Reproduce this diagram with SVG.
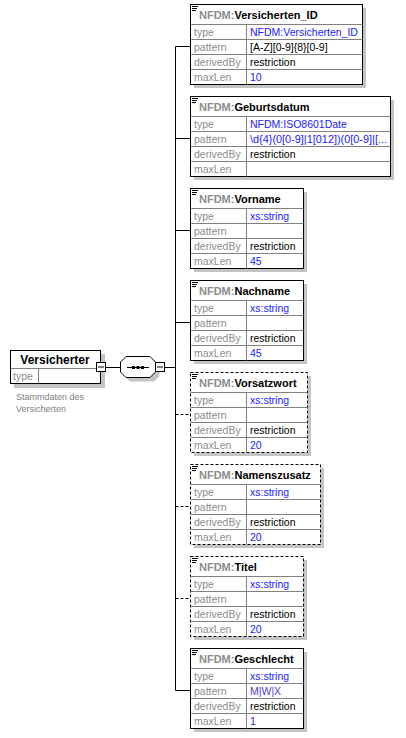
<svg xmlns="http://www.w3.org/2000/svg" width="406" height="738" viewBox="0 0 406 738">
<style>
  text { font-family: "Liberation Sans", Arial, sans-serif; }
  .bg { fill: #ffffff; }
  .box { fill: #ffffff; stroke: #000000; stroke-width: 1; }
  .opt { stroke-dasharray: 3 2; }
  .shadow { fill: #c4c4c4; }
  .sep { stroke: #808080; stroke-width: 1; }
  .conn { stroke: #000000; stroke-width: 1; fill: none; }
  .dash { stroke-dasharray: 3 2; }
  .ttl { font-size: 11px; font-weight: bold; fill: #000000; }
  .ns { fill: #8c8c8c; }
  .lbl { font-size: 10.5px; fill: #8c8c8c; }
  .val { font-size: 10.5px; fill: #000000; }
  .blue { fill: #1a1aff; }
  .ico { stroke: #000000; stroke-width: 1; }
  .desc { font-size: 9px; fill: #808080; }
</style>
<defs>
  <g id="icon">
    <line class="ico" x1="192" y1="2.5" x2="198" y2="2.5"/>
    <line class="ico" x1="192" y1="4.5" x2="197" y2="4.5"/>
    <line class="ico" x1="192" y1="6.5" x2="196" y2="6.5"/>
  </g>
</defs>
<rect class="bg" x="0" y="0" width="406" height="738"/>

<g id="connectors">
  <line class="conn" x1="175.5" y1="46.5" x2="175.5" y2="690.5"/>
  <line class="conn" x1="106" y1="367.5" x2="121" y2="367.5"/>
  <line class="conn" x1="165" y1="367.5" x2="175.5" y2="367.5"/>
  <line class="conn" x1="175.5" y1="46.5" x2="190" y2="46.5"/>
  <line class="conn" x1="175.5" y1="138.5" x2="190" y2="138.5"/>
  <line class="conn" x1="175.5" y1="230.5" x2="190" y2="230.5"/>
  <line class="conn" x1="175.5" y1="322.5" x2="190" y2="322.5"/>
  <line class="conn dash" x1="175.5" y1="414.5" x2="190" y2="414.5"/>
  <line class="conn dash" x1="175.5" y1="506.5" x2="190" y2="506.5"/>
  <line class="conn dash" x1="175.5" y1="598.5" x2="190" y2="598.5"/>
  <line class="conn" x1="175.5" y1="690.5" x2="190" y2="690.5"/>
</g>

<g id="versicherter">
  <rect class="shadow" x="14" y="354" width="91" height="34"/>
  <rect class="box" x="10.5" y="350.5" width="90" height="33"/>
  <line class="sep" x1="10.5" y1="368.5" x2="100.5" y2="368.5"/>
  <line class="sep" x1="38.5" y1="368.5" x2="38.5" y2="383.5"/>
  <text class="ttl" x="55" y="364" text-anchor="middle" style="font-size:12px">Versicherter</text>
  <text class="lbl" x="13" y="380">type</text>
  <rect class="box" x="96.5" y="362.5" width="9" height="9"/>
  <line class="conn" x1="98" y1="367" x2="104" y2="367"/>
  <text class="desc" x="16" y="400">Stammdaten des</text>
  <text class="desc" x="16" y="412">Versicherten</text>
</g>

<g id="sequence">
  <polygon class="shadow" points="130,360.5 154,360.5 159.5,366 159.5,376 154,381.5 130,381.5 124.5,376 124.5,366"/>
  <polygon class="box" points="126,356.5 150,356.5 155.5,362 155.5,372 150,377.5 126,377.5 120.5,372 120.5,362"/>
  <line class="conn" x1="127" y1="367.5" x2="149" y2="367.5"/>
  <rect x="132" y="366" width="3" height="3" fill="#000"/>
  <rect x="136.5" y="366" width="3" height="3" fill="#000"/>
  <rect x="141" y="366" width="3" height="3" fill="#000"/>
  <rect class="box" x="155.5" y="362.5" width="9" height="9"/>
  <line class="conn" x1="157" y1="367" x2="163" y2="367"/>
</g>

<g id="versicherten_id">
  <rect class="shadow" x="194" y="8" width="172" height="80"/>
  <rect class="box" x="190.5" y="4.5" width="172" height="80"/>
  <line class="sep" x1="190.5" y1="24.5" x2="362.5" y2="24.5"/>
  <line class="sep" x1="190.5" y1="39.5" x2="362.5" y2="39.5"/>
  <line class="sep" x1="190.5" y1="54.5" x2="362.5" y2="54.5"/>
  <line class="sep" x1="190.5" y1="69.5" x2="362.5" y2="69.5"/>
  <line class="sep" x1="246.5" y1="24.5" x2="246.5" y2="84.5"/>
  <use href="#icon" transform="translate(0,4)"/>
  <text class="ttl" x="199" y="19"><tspan class="ns">NFDM:</tspan>Versicherten_ID</text>
  <text class="lbl" x="194" y="36">type</text>
  <text class="lbl" x="194" y="51">pattern</text>
  <text class="lbl" x="194" y="66">derivedBy</text>
  <text class="lbl" x="194" y="81">maxLen</text>
  <text class="val blue" x="250" y="36">NFDM:Versicherten_ID</text>
  <text class="val" x="250" y="51">[A-Z][0-9]{8}[0-9]</text>
  <text class="val" x="250" y="66">restriction</text>
  <text class="val blue" x="250" y="81">10</text>
</g>

<g id="geburtsdatum">
  <rect class="shadow" x="194" y="100" width="200" height="80"/>
  <rect class="box" x="190.5" y="96.5" width="200" height="80"/>
  <line class="sep" x1="190.5" y1="116.5" x2="390.5" y2="116.5"/>
  <line class="sep" x1="190.5" y1="131.5" x2="390.5" y2="131.5"/>
  <line class="sep" x1="190.5" y1="146.5" x2="390.5" y2="146.5"/>
  <line class="sep" x1="190.5" y1="161.5" x2="390.5" y2="161.5"/>
  <line class="sep" x1="246.5" y1="116.5" x2="246.5" y2="176.5"/>
  <use href="#icon" transform="translate(0,96)"/>
  <text class="ttl" x="199" y="111"><tspan class="ns">NFDM:</tspan>Geburtsdatum</text>
  <text class="lbl" x="194" y="128">type</text>
  <text class="lbl" x="194" y="143">pattern</text>
  <text class="lbl" x="194" y="158">derivedBy</text>
  <text class="lbl" x="194" y="173">maxLen</text>
  <text class="val blue" x="250" y="128">NFDM:ISO8601Date</text>
  <text class="val blue" x="250" y="143" textLength="137" lengthAdjust="spacingAndGlyphs">\d{4}(0[0-9]|1[012])(0[0-9]|[...</text>
  <text class="val" x="250" y="158">restriction</text>
</g>

<g id="vorname">
  <rect class="shadow" x="194" y="192" width="113" height="80"/>
  <rect class="box" x="190.5" y="188.5" width="113" height="80"/>
  <line class="sep" x1="190.5" y1="208.5" x2="303.5" y2="208.5"/>
  <line class="sep" x1="190.5" y1="223.5" x2="303.5" y2="223.5"/>
  <line class="sep" x1="190.5" y1="238.5" x2="303.5" y2="238.5"/>
  <line class="sep" x1="190.5" y1="253.5" x2="303.5" y2="253.5"/>
  <line class="sep" x1="246.5" y1="208.5" x2="246.5" y2="268.5"/>
  <use href="#icon" transform="translate(0,188)"/>
  <text class="ttl" x="199" y="203"><tspan class="ns">NFDM:</tspan>Vorname</text>
  <text class="lbl" x="194" y="220">type</text>
  <text class="lbl" x="194" y="235">pattern</text>
  <text class="lbl" x="194" y="250">derivedBy</text>
  <text class="lbl" x="194" y="265">maxLen</text>
  <text class="val blue" x="250" y="220">xs:string</text>
  <text class="val" x="250" y="250">restriction</text>
  <text class="val blue" x="250" y="265">45</text>
</g>

<g id="nachname">
  <rect class="shadow" x="194" y="284" width="113" height="80"/>
  <rect class="box" x="190.5" y="280.5" width="113" height="80"/>
  <line class="sep" x1="190.5" y1="300.5" x2="303.5" y2="300.5"/>
  <line class="sep" x1="190.5" y1="315.5" x2="303.5" y2="315.5"/>
  <line class="sep" x1="190.5" y1="330.5" x2="303.5" y2="330.5"/>
  <line class="sep" x1="190.5" y1="345.5" x2="303.5" y2="345.5"/>
  <line class="sep" x1="246.5" y1="300.5" x2="246.5" y2="360.5"/>
  <use href="#icon" transform="translate(0,280)"/>
  <text class="ttl" x="199" y="295"><tspan class="ns">NFDM:</tspan>Nachname</text>
  <text class="lbl" x="194" y="312">type</text>
  <text class="lbl" x="194" y="327">pattern</text>
  <text class="lbl" x="194" y="342">derivedBy</text>
  <text class="lbl" x="194" y="357">maxLen</text>
  <text class="val blue" x="250" y="312">xs:string</text>
  <text class="val" x="250" y="342">restriction</text>
  <text class="val blue" x="250" y="357">45</text>
</g>

<g id="vorsatzwort">
  <rect class="shadow" x="194" y="376" width="117" height="80"/>
  <rect class="box opt" x="190.5" y="372.5" width="117" height="80"/>
  <line class="sep" x1="190.5" y1="392.5" x2="307.5" y2="392.5"/>
  <line class="sep" x1="190.5" y1="407.5" x2="307.5" y2="407.5"/>
  <line class="sep" x1="190.5" y1="422.5" x2="307.5" y2="422.5"/>
  <line class="sep" x1="190.5" y1="437.5" x2="307.5" y2="437.5"/>
  <line class="sep" x1="246.5" y1="392.5" x2="246.5" y2="452.5"/>
  <use href="#icon" transform="translate(0,372)"/>
  <text class="ttl" x="199" y="387"><tspan class="ns">NFDM:</tspan>Vorsatzwort</text>
  <text class="lbl" x="194" y="404">type</text>
  <text class="lbl" x="194" y="419">pattern</text>
  <text class="lbl" x="194" y="434">derivedBy</text>
  <text class="lbl" x="194" y="449">maxLen</text>
  <text class="val blue" x="250" y="404">xs:string</text>
  <text class="val" x="250" y="434">restriction</text>
  <text class="val blue" x="250" y="449">20</text>
</g>

<g id="namenszusatz">
  <rect class="shadow" x="194" y="468" width="130" height="80"/>
  <rect class="box opt" x="190.5" y="464.5" width="130" height="80"/>
  <line class="sep" x1="190.5" y1="484.5" x2="320.5" y2="484.5"/>
  <line class="sep" x1="190.5" y1="499.5" x2="320.5" y2="499.5"/>
  <line class="sep" x1="190.5" y1="514.5" x2="320.5" y2="514.5"/>
  <line class="sep" x1="190.5" y1="529.5" x2="320.5" y2="529.5"/>
  <line class="sep" x1="246.5" y1="484.5" x2="246.5" y2="544.5"/>
  <use href="#icon" transform="translate(0,464)"/>
  <text class="ttl" x="199" y="479"><tspan class="ns">NFDM:</tspan>Namenszusatz</text>
  <text class="lbl" x="194" y="496">type</text>
  <text class="lbl" x="194" y="511">pattern</text>
  <text class="lbl" x="194" y="526">derivedBy</text>
  <text class="lbl" x="194" y="541">maxLen</text>
  <text class="val blue" x="250" y="496">xs:string</text>
  <text class="val" x="250" y="526">restriction</text>
  <text class="val blue" x="250" y="541">20</text>
</g>

<g id="titel">
  <rect class="shadow" x="194" y="560" width="113" height="80"/>
  <rect class="box opt" x="190.5" y="556.5" width="113" height="80"/>
  <line class="sep" x1="190.5" y1="576.5" x2="303.5" y2="576.5"/>
  <line class="sep" x1="190.5" y1="591.5" x2="303.5" y2="591.5"/>
  <line class="sep" x1="190.5" y1="606.5" x2="303.5" y2="606.5"/>
  <line class="sep" x1="190.5" y1="621.5" x2="303.5" y2="621.5"/>
  <line class="sep" x1="246.5" y1="576.5" x2="246.5" y2="636.5"/>
  <use href="#icon" transform="translate(0,556)"/>
  <text class="ttl" x="199" y="571"><tspan class="ns">NFDM:</tspan>Titel</text>
  <text class="lbl" x="194" y="588">type</text>
  <text class="lbl" x="194" y="603">pattern</text>
  <text class="lbl" x="194" y="618">derivedBy</text>
  <text class="lbl" x="194" y="633">maxLen</text>
  <text class="val blue" x="250" y="588">xs:string</text>
  <text class="val" x="250" y="618">restriction</text>
  <text class="val blue" x="250" y="633">20</text>
</g>

<g id="geschlecht">
  <rect class="shadow" x="194" y="652" width="113" height="80"/>
  <rect class="box" x="190.5" y="648.5" width="113" height="80"/>
  <line class="sep" x1="190.5" y1="668.5" x2="303.5" y2="668.5"/>
  <line class="sep" x1="190.5" y1="683.5" x2="303.5" y2="683.5"/>
  <line class="sep" x1="190.5" y1="698.5" x2="303.5" y2="698.5"/>
  <line class="sep" x1="190.5" y1="713.5" x2="303.5" y2="713.5"/>
  <line class="sep" x1="246.5" y1="668.5" x2="246.5" y2="728.5"/>
  <use href="#icon" transform="translate(0,648)"/>
  <text class="ttl" x="199" y="663"><tspan class="ns">NFDM:</tspan>Geschlecht</text>
  <text class="lbl" x="194" y="680">type</text>
  <text class="lbl" x="194" y="695">pattern</text>
  <text class="lbl" x="194" y="710">derivedBy</text>
  <text class="lbl" x="194" y="725">maxLen</text>
  <text class="val blue" x="250" y="680">xs:string</text>
  <text class="val" x="250" y="695" style="fill:#4b3bdc">M|W|X</text>
  <text class="val" x="250" y="710">restriction</text>
  <text class="val blue" x="250" y="725">1</text>
</g>
</svg>
